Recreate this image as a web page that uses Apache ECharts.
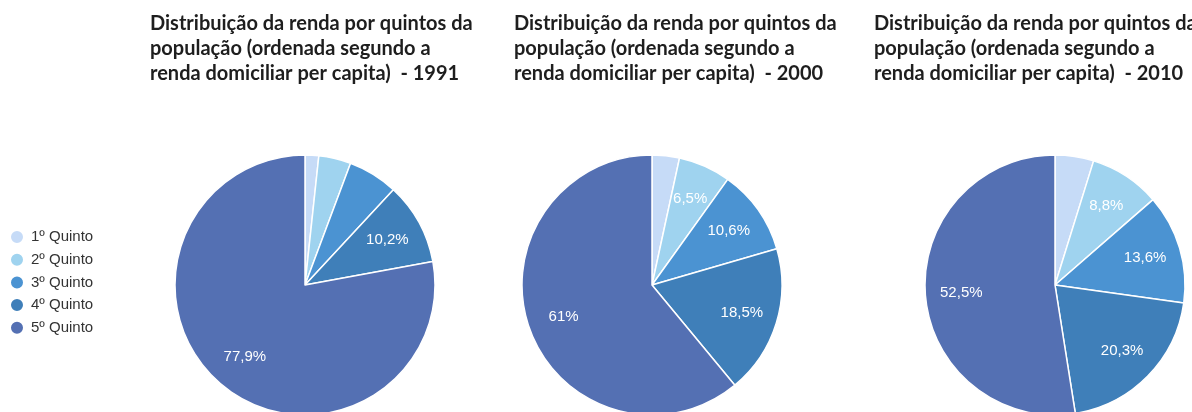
<!DOCTYPE html>
<html><head><meta charset="utf-8">
<script src="https://cdn.jsdelivr.net/npm/echarts@6/dist/echarts.min.js"></script>
<style>html,body{margin:0;padding:0;background:#fff}#c{width:1192px;height:412px}</style>
</head><body><div id="c"></div>
<script>
const categories = ['1º Quinto','2º Quinto','3º Quinto','4º Quinto','5º Quinto'];
const years = ['1991','2000','2010'];
const values1991 = [1.7, 4.0, 6.2, 10.2, 77.9];
const values2000 = [3.4, 6.5, 10.6, 18.5, 61.0];
const values2010 = [4.8, 8.8, 13.6, 20.3, 52.5];
const colors = ['#c6dbf7','#9fd3ef','#4b93d2','#3f7fb9','#5470b3'];
const titleText = 'Distribuição da renda por quintos da\npopulação (ordenada segundo a\nrenda domiciliar per capita)  - ';

const allValues = [values1991, values2000, values2010];
const centersX = [305, 652, 1055];
const titleX = [145, 509, 869];
const R = 130;

const fmt = v => (Number.isInteger(v) ? String(v) : String(v).replace('.', ',')) + '%';
const labelMin = 6.4;

const series = [];
allValues.forEach((vals, i) => {
  const data = vals.map((v, k) => ({ name: categories[k], value: v }));
  series.push({
    type: 'pie', center: [centersX[i], 285], radius: [0, R],
    startAngle: 90, clockwise: true, silent: true,
    itemStyle: { borderColor: '#fff', borderWidth: 1.5 },
    label: { show: false }, labelLine: { show: false },
    data: data, animation: false
  });
  series.push({
    type: 'pie', center: [centersX[i], 285], radius: [52, R],
    startAngle: 90, clockwise: true, silent: true,
    legendHoverLink: false,
    itemStyle: { color: 'rgba(0,0,0,0)', borderWidth: 0 },
    label: {
      show: true, position: 'inside', color: '#fff',
      fontFamily: 'Arial, Liberation Sans', fontSize: 15,
      formatter: p => p.value >= labelMin ? fmt(p.value) : ''
    },
    labelLine: { show: false },
    data: vals.map((v, k) => ({ name: categories[k] + ' ', value: v })),
    animation: false
  });
});

const chart = echarts.init(document.getElementById('c'), null, { renderer: 'canvas' });
chart.setOption({
  color: colors,
  animation: false,
  title: years.map((y, i) => ({
    text: titleText + y, left: titleX[i], top: 6,
    textStyle: { fontFamily: 'Lato, Open Sans', fontWeight: 'bold', fontSize: 20, lineHeight: 25, color: '#1e1e1e' }
  })),
  legend: {
    orient: 'vertical', left: 4, top: 224,
    data: categories, icon: 'circle', itemWidth: 14, itemHeight: 14, itemGap: 6.7,
    textStyle: { fontFamily: 'Arial, Liberation Sans', fontSize: 15, color: '#333', padding: [0, 0, 0, 2] },
    selectedMode: false
  },
  series: series
});
</script></body></html>
